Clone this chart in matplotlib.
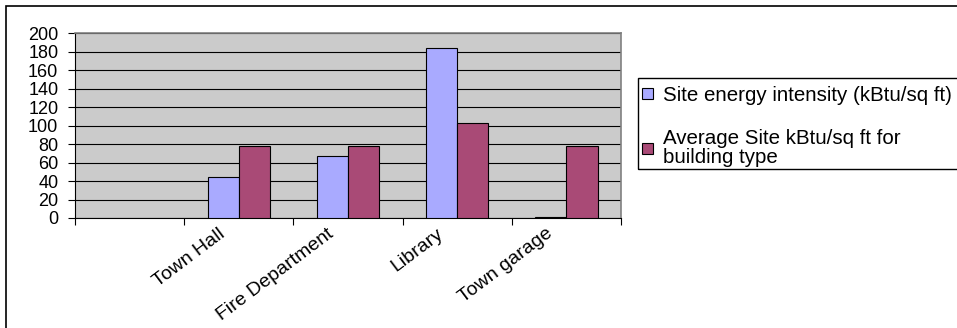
import numpy as np
import matplotlib
matplotlib.use("Agg")
import matplotlib.pyplot as plt
from matplotlib.patches import Rectangle

plt.rcParams['font.family'] = ['Liberation Sans', 'DejaVu Sans']

# categories (first slot is blank in the original sheet)
categories = ["", "Town Hall", "Fire Department", "Library", "Town garage"]
site_intensity = [np.nan, 44, 67, 184, 1]
avg_site = [np.nan, 78, 78, 103, 78]
series_names = ["Site energy intensity (kBtu/sq ft)",
                "Average Site kBtu/sq ft for\nbuilding type"]
y_ticks = list(range(0, 201, 20))

W, H = 957, 328
fig = plt.figure(figsize=(W / 100, H / 100), dpi=100)
fig.patch.set_facecolor("white")

# chart area border (runs off the right and bottom edge)
fig.patches.append(Rectangle((6 / W, -0.1), 1.2, 1 - 6 / H + 0.1,
                             transform=fig.transFigure, fill=False,
                             edgecolor="black", linewidth=1.2))

ax = fig.add_axes([75 / W, 1 - 218 / H, (621 - 75) / W, (218 - 33) / H])
ax.set_facecolor("#CBCBCB")

x = np.arange(len(categories))
w = 0.286
b1 = ax.bar(x - w / 2, site_intensity, w, color="#A9AAFF", edgecolor="black",
            linewidth=0.8, zorder=3, label=series_names[0])
b2 = ax.bar(x + w / 2, avg_site, w, color="#A94A76", edgecolor="black",
            linewidth=0.8, zorder=3, label=series_names[1])

ax.set_xlim(-0.5, len(categories) - 0.5)
ax.set_ylim(0, 200)
ax.set_yticks(y_ticks)
ax.set_yticklabels([str(v) for v in y_ticks], fontsize=13)
ax.yaxis.grid(True, color="black", linewidth=0.8, zorder=1)
ax.set_axisbelow(True)

# category boundaries carry the tick marks, labels sit at the centers
ax.set_xticks(np.arange(-0.5, len(categories), 1.0))
ax.set_xticklabels([])
for xi, name in zip(x, categories):
    ax.annotate(name, xy=(xi, 0), xycoords=("data", "axes fraction"),
                xytext=(-11.5, -10), textcoords="offset points",
                rotation=37, rotation_mode="anchor", ha="right", va="center",
                fontsize=14, annotation_clip=False)
ax.tick_params(axis="x", which="major", length=5, width=0.8, direction="out")
ax.tick_params(axis="y", length=5, width=0.8, direction="out", pad=7)

for s in ["top", "right"]:
    ax.spines[s].set_color("#808080")
    ax.spines[s].set_linewidth(1.2)
ax.spines["left"].set_color("black")
ax.spines["bottom"].set_color("black")
ax.spines["left"].set_linewidth(0.8)
ax.spines["bottom"].set_linewidth(0.8)

# legend box runs off the right edge too
fig.patches.append(Rectangle((638 / W, 1 - 169 / H), 0.5, (169 - 78) / H,
                             transform=fig.transFigure, fill=False,
                             edgecolor="black", linewidth=1.0))
leg = fig.legend(handles=[b1, b2], labels=series_names, loc="upper left",
                 bbox_to_anchor=(642 / W, 1 - 86 / H), frameon=False,
                 fontsize=14.8, handlelength=0.55, handleheight=0.45,
                 handletextpad=0.45, labelspacing=1.15, borderpad=0,
                 borderaxespad=0)
for t in leg.get_texts():
    t.set_linespacing(1.05)

fig.savefig("out.png", dpi=100)
